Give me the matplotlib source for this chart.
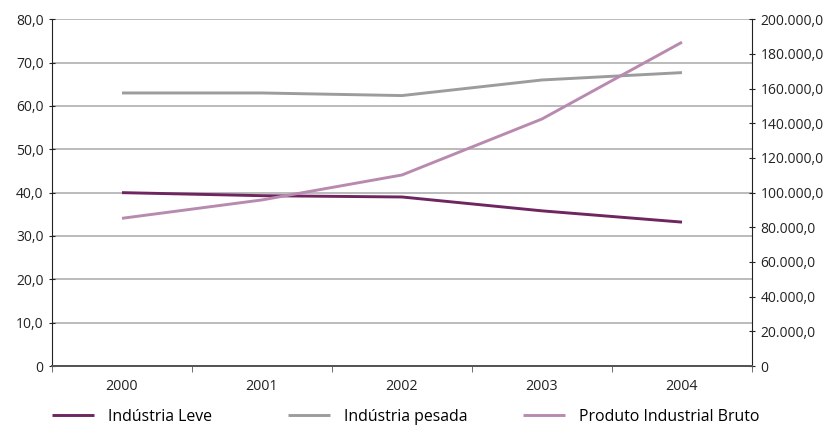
import matplotlib
matplotlib.use("Agg")
import matplotlib.pyplot as plt
from matplotlib.ticker import FixedLocator, FuncFormatter

plt.rcParams['font.family'] = ['Open Sans', 'DejaVu Sans']

years = ['2000', '2001', '2002', '2003', '2004']
industria_leve = [40.0, 39.3, 39.0, 35.8, 33.2]
industria_pesada = [63.0, 63.0, 62.4, 66.0, 67.7]
produto_industrial_bruto = [85200, 95800, 110200, 142500, 186800]
series_names = ['Indústria Leve', 'Indústria pesada', 'Produto Industrial Bruto']

left_ticks = [0, 10, 20, 30, 40, 50, 60, 70, 80]
right_ticks = [0, 20000, 40000, 60000, 80000, 100000, 120000, 140000, 160000, 180000, 200000]

fig = plt.figure(figsize=(8.26, 4.25), dpi=100)
ax = fig.add_axes([52 / 826, 1 - 366 / 425, 700 / 826, (366 - 19.3) / 425])
ax2 = ax.twinx()

x = list(range(len(years)))
l1, = ax.plot(x, industria_leve, color='#6e2560', lw=2.1, solid_capstyle='butt')
l2, = ax.plot(x, industria_pesada, color='#9c9c9e', lw=2.1, solid_capstyle='butt')
l3, = ax2.plot(x, produto_industrial_bruto, color='#b98ab0', lw=2.1, solid_capstyle='butt')

ax.set_xlim(-0.5, 4.5)
ax.set_ylim(0, 80)
ax2.set_ylim(0, 200000)

ax.yaxis.set_major_locator(FixedLocator(left_ticks))
ax2.yaxis.set_major_locator(FixedLocator(right_ticks))


def fmt_left(v, pos):
    return '0' if v == 0 else f"{v:.1f}".replace('.', ',')


def fmt_right(v, pos):
    if v == 0:
        return '0'
    return f"{int(v):,}".replace(',', '.') + ',0'


ax.yaxis.set_major_formatter(FuncFormatter(fmt_left))
ax2.yaxis.set_major_formatter(FuncFormatter(fmt_right))

ax.set_xticks(x)
ax.set_xticklabels(years)
ax.set_xticks([i - 0.5 for i in range(len(years) + 1)], minor=True)
ax.tick_params(axis='x', which='major', length=0, pad=9, labelsize=10.3, colors='#222222')
ax.tick_params(axis='x', which='minor', length=4, direction='out', color='#555555')

ax.grid(axis='y', color='#a8a8a8', lw=1.1)
ax.set_axisbelow(True)

ax.tick_params(axis='y', length=4, direction='inout', labelsize=10, colors='#222222', pad=4)
ax2.tick_params(axis='y', length=4, direction='inout', labelsize=10, colors='#222222', pad=4)

for a in (ax, ax2):
    a.spines['top'].set_visible(False)
    a.spines['left'].set_color('#222222')
    a.spines['right'].set_color('#222222')
    a.spines['bottom'].set_color('#555555')
    a.spines['bottom'].set_linewidth(1.4)
ax.spines['right'].set_visible(False)
ax2.spines['left'].set_visible(False)

# Legend laid out in equal-width columns below the plot
for handle, name, xpos in zip([l1, l2, l3], series_names, [52, 288, 523]):
    fig.legend([handle], [name], loc='center left',
               bbox_to_anchor=(xpos / 826, 1 - 417 / 425), frameon=False,
               fontsize=11.4, handlelength=2.65, handletextpad=0.9,
               borderaxespad=0, borderpad=0)

fig.savefig('out.png', dpi=100)
